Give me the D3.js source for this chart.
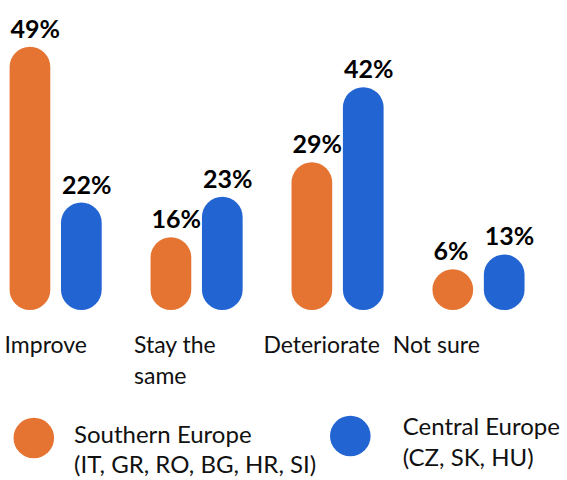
<!DOCTYPE html>
<html lang="en">
<head>
  <meta charset="UTF-8">
  <title>Outlook by region</title>
  <script src="https://d3js.org/d3.v7.min.js"></script>
  <style>
    body {
      margin: 0;
      background: #fff;
    }

    svg {
      display: block;
      font-family: Lato, "Noto Sans", sans-serif;
    }

    .value {
      font-size: 25px;
      font-weight: bold;
      fill: #000;
    }

    .cat {
      font-size: 23px;
      fill: #111;
    }

    .legend text {
      font-size: 24px;
      fill: #111;
    }
  </style>
</head>
<body>

  <svg id="chart" width="567" height="480"></svg>

  <script>
    const categories = ["Improve", "Stay the same", "Deteriorate", "Not sure"];
    const seriesNames = ["Southern Europe", "Central Europe"];
    const seriesSub = ["(IT, GR, RO, BG, HR, SI)", "(CZ, SK, HU)"];
    const southern = [49, 16, 29, 6];
    const central = [22, 23, 42, 13];
    const colors = ["#E57331", "#2264D2"];

    const svg = d3.select("#chart");
    const baseY = 310;

    // group scale + bar-in-group scale
    const x0 = d3.scaleBand().domain(categories).range([9.6, 573.4]);
    const x1 = d3.scaleBand().domain(seriesNames).range([0, 92.1]).paddingInner(0.208);
    const bw = x1.bandwidth();

    // loose scale, bars never shorter than a circle
    const y = d3.scaleLinear().domain([0, 50]).range([329.5, 41]);

    // labels sit on their own band scale
    const xl = d3.scaleBand().domain(categories).range([4.6, 522.2]);

    const rows = [];
    categories.forEach((c, i) => {
      rows.push({ cat: c, s: 0, v: southern[i] });
      rows.push({ cat: c, s: 1, v: central[i] });
    });

    const topOf = d => Math.min(y(d.v), baseY - bw);

    svg.append("g")
      .selectAll("rect")
      .data(rows)
      .join("rect")
      .attr("x", d => x0(d.cat) + x1(seriesNames[d.s]))
      .attr("y", topOf)
      .attr("width", bw)
      .attr("height", d => baseY - topOf(d))
      .attr("rx", bw / 2)
      .attr("ry", bw / 2)
      .attr("fill", d => colors[d.s]);

    svg.append("g")
      .selectAll("text")
      .data(rows)
      .join("text")
      .attr("class", "value")
      .attr("x", d => x0(d.cat) + x1(seriesNames[d.s]) + 1)
      .attr("y", d => topOf(d) - 9)
      .text(d => d.v + "%");

    // category labels, "Stay the same" wraps
    const catText = svg.append("g")
      .selectAll("text")
      .data(categories)
      .join("text")
      .attr("class", "cat")
      .attr("x", d => xl(d))
      .attr("y", 352.5);

    catText.each(function(d) {
      const lines = d === "Stay the same" ? ["Stay the", "same"] : [d];
      d3.select(this).selectAll("tspan")
        .data(lines)
        .join("tspan")
        .attr("x", xl(d))
        .attr("dy", (l, i) => i === 0 ? 0 : 31.5)
        .text(l => l);
    });

    // legend
    const legendPos = [{ cx: 33.8, cy: 438, tx: 74, ty: 442.7 }, { cx: 350.3, cy: 436, tx: 402.7, ty: 435 }];
    const legend = svg.append("g")
      .attr("class", "legend")
      .selectAll("g")
      .data(seriesNames)
      .join("g");

    legend.append("circle")
      .attr("cx", (d, i) => legendPos[i].cx)
      .attr("cy", (d, i) => legendPos[i].cy)
      .attr("r", 20.3)
      .attr("fill", (d, i) => colors[i]);

    legend.append("text")
      .attr("x", (d, i) => legendPos[i].tx)
      .attr("y", (d, i) => legendPos[i].ty)
      .text(d => d);

    legend.append("text")
      .attr("x", (d, i) => legendPos[i].tx)
      .attr("y", (d, i) => legendPos[i].ty + 30.5)
      .text((d, i) => seriesSub[i]);
  </script>

</body>
</html>
